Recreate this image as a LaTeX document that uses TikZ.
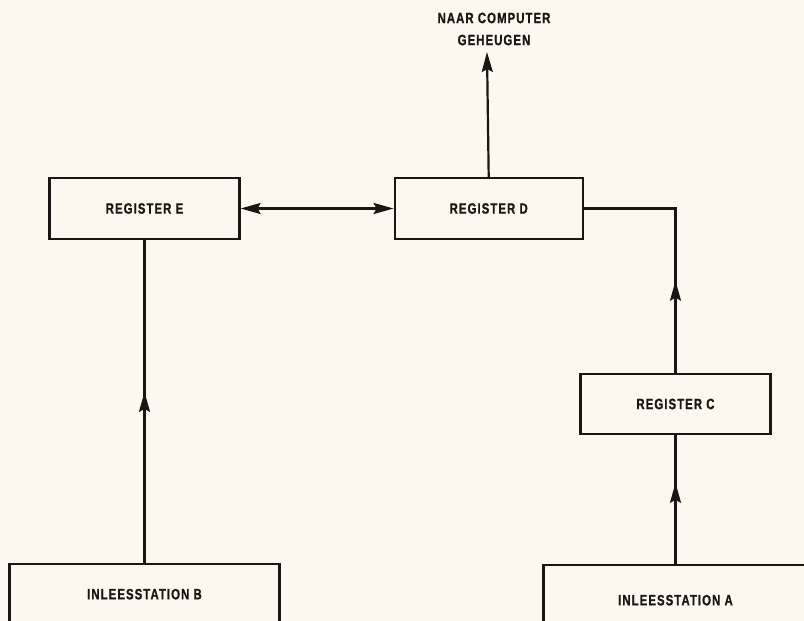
\documentclass[tikz,border=0pt]{standalone}
\usepackage{fontspec}
\setmainfont{Liberation Sans}[FakeStretch=0.76,LetterSpace=7,FakeBold=0.8]
\usepackage{xcolor}
\usetikzlibrary{positioning}
\usetikzlibrary{arrows.meta}
\usetikzlibrary{decorations.markings}

\definecolor{paper}{RGB}{252,248,240}
\definecolor{ink}{RGB}{25,22,20}

\tikzset{
  regbox/.style={draw=ink,line width=2.2pt,fill=paper,minimum width=190pt,minimum height=61pt,
    font=\fontsize{15}{17}\selectfont\bfseries,text=ink},
  stationbox/.style={regbox,minimum height=70pt},
  wire/.style={draw=ink,line width=2.2pt},
  bigtip/.tip={Stealth[length=20pt,width=11pt,inset=3pt]},
  tip/.style={-bigtip},
  midarrow/.style={postaction={decorate},decoration={markings,
    mark=at position #1 with {\arrow{bigtip}}}}
}

\begin{document}
\begin{tikzpicture}[x=1pt,y=-1pt]
\fill[paper] (0,0) rectangle (804,621);
\useasboundingbox (0,0) rectangle (804,621);
\clip (0,0) rectangle (804,621);

\node[regbox]                   (E) at (144.5,208.5) {REGISTER E};
\node[regbox,minimum width=188pt] (D) [right=153pt of E] {REGISTER D};
\node[regbox,minimum height=60pt] (C) at (675.5,404) {REGISTER C};
\node[stationbox,minimum width=270pt,minimum height=60pt] (B) [below=323pt of E] {INLEESSTATION B};
\node[stationbox,minimum width=264pt] (A) [below=129pt of C] {INLEESSTATION A};

\coordinate (mem) at (487,52);
\node[font=\fontsize{15}{22}\selectfont\bfseries,text=ink,align=center] (memlabel) at (494,29)
  {NAAR COMPUTER\\GEHEUGEN};

\draw[wire,tip] (D.north) -- (mem);
\draw[wire,bigtip-bigtip] (E.east) -- (D.west);
\draw[wire,midarrow=0.53] (B.north) -- (E.south);
\draw[wire,midarrow=0.36] (C.north) |- (D.east);
\draw[wire,midarrow=0.63] (A.north) -- (C.south);
\end{tikzpicture}
\end{document}
